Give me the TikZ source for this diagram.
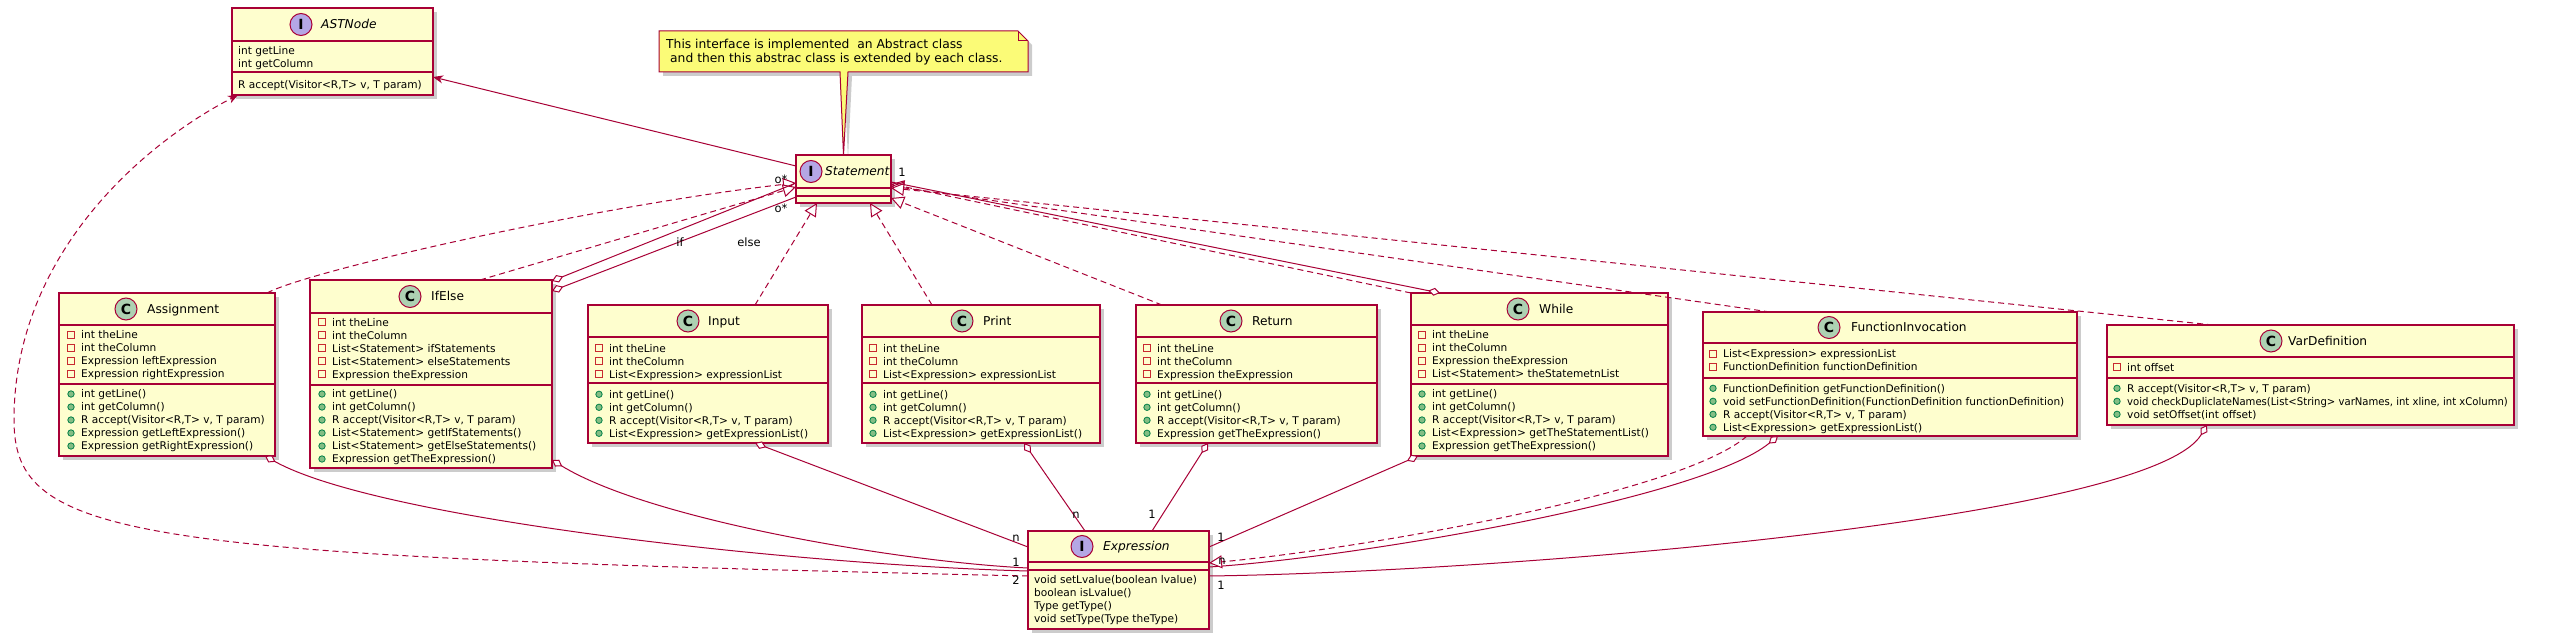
\documentclass[tikz,border=0pt]{standalone}
\usepackage{fontspec}
\setmainfont{DejaVu Sans}
\usetikzlibrary{arrows.meta,shadows,calc}
\definecolor{umlred}{HTML}{A80036}
\definecolor{umlfill}{HTML}{FEFECE}
\definecolor{cfill}{HTML}{ADD1B2}
\definecolor{ifill}{HTML}{B4A7E5}
\definecolor{privred}{HTML}{C82930}
\definecolor{pubfill}{HTML}{84BE84}
\definecolor{publine}{HTML}{038048}
\definecolor{notefill}{HTML}{FBFB77}
\tikzset{
 ubox/.style={draw=umlred, fill=umlfill, line width=1.5pt, inner sep=0pt, outer sep=0pt,
   drop shadow={shadow xshift=4pt, shadow yshift=-4pt, opacity=0.2, fill=black}},
 usep/.style={draw=umlred, line width=1.5pt},
 uicon/.style={circle, draw=umlred, line width=1pt, minimum size=22pt, inner sep=0pt,
   font=\fontsize{14}{14}\selectfont\bfseries},
 ctitle/.style={anchor=base west, inner sep=0pt, font=\fontsize{12.2}{14}\selectfont},
 ititle/.style={anchor=base west, inner sep=0pt, font=\fontsize{12.2}{14}\selectfont\itshape},
 umem/.style={anchor=base west, inner sep=0pt, font=\fontsize{10.6}{13}\selectfont},
 privi/.style={draw=privred, line width=0.9pt},
 pubi/.style={draw=publine, fill=pubfill, line width=0.8pt},
 conn/.style={draw=umlred, line width=1pt},
 realize/.style={conn, dash pattern=on 6pt off 4pt, -{Triangle[fill=white, length=13pt, width=13pt]}},
 aggr/.style={conn, {Diamond[fill=white, length=12pt, width=8pt]}-},
 dep/.style={conn, dash pattern=on 6pt off 4pt, -{Stealth[length=10pt, width=8pt, inset=3pt]}},
 assoc/.style={conn, -{Stealth[length=10pt, width=8pt, inset=3pt]}},
 mult/.style={inner sep=0pt, font=\fontsize{11.5}{13}\selectfont},
 notetext/.style={anchor=base west, inner sep=0pt, font=\fontsize{12.3}{14}\selectfont},
}
\newcommand\umlbox[7]{%
 \node[ubox, minimum width={#4-#2}, minimum height={#5-#3}, anchor=north west] (#1) at (#2,#3) {};
 \draw[usep] ($(#1.north west)+(0,{#6-#3})$) -- ($(#1.north east)+(0,{#6-#3})$);
 \draw[usep] ($(#1.north west)+(0,{#7-#3})$) -- ($(#1.north east)+(0,{#7-#3})$);}
\newcommand\privlist[4]{\foreach \mtext [count=\mi] in {#4} {%
 \draw[privi] ({#2-13.5},{#3+13*(\mi-1)-3.5}) rectangle ++(7,7);
 \node[umem] (#1\mi) at (#2,{#3+13*(\mi-1)+3.8}) {\mtext};}}
\newcommand\publist[4]{\foreach \mtext [count=\mi] in {#4} {%
 \draw[pubi] ({#2-10},{#3+13*(\mi-1)}) circle[radius=3.2];
 \node[umem] (#1\mi) at (#2,{#3+13*(\mi-1)+3.8}) {\mtext};}}
\newcommand\plainlist[4]{\foreach \mtext [count=\mi] in {#4} {%
 \node[umem] (#1\mi) at (#2,{#3+13*(\mi-1)+3.8}) {\mtext};}}
\begin{document}
\begin{tikzpicture}[x=1pt,y=-1pt]
\useasboundingbox (0,0) rectangle (2570,639);
\fill[white] (0,0) rectangle (2570,639);

% ---------- note shadow ----------
\coordinate (noteL) at (840,72);
\coordinate (noteR) at (848,72);
\fill[black, opacity=0.2, shift={(4pt,-4pt)}] (659,31) -- (1018,31) -- (1028,41) -- (1028,72) -- (848,72) -- (844,155) -- (840,72) -- (659,72) -- cycle;

% ---------- classes ----------
\umlbox{ast}{232}{8}{433}{95}{41}{72}
\node[uicon, fill=ifill] (ast-ic) at (301,24.5) {I};
\node[ititle] (ast-t) at (321,28.8) {ASTNode};
\plainlist{asta}{238}{50.7}{{int getLine},{int getColumn}}
\plainlist{astm}{238}{84.3}{{R accept(Visitor<R,T> v, T param)}}

\umlbox{st}{796}{155}{891}{203}{188}{196}
\node[uicon, fill=ifill] (st-ic) at (811,171.5) {I};
\node[ititle] (st-t) at (825,175.8) {Statement};

\umlbox{ex}{1028}{531}{1209}{629}{562}{570}
\node[uicon, fill=ifill] (ex-ic) at (1082,546.5) {I};
\node[ititle] (ex-t) at (1103,550.8) {Expression};
\plainlist{exm}{1034}{580}{{void setLvalue(boolean lvalue)},{boolean isLvalue()},{Type getType()},{void setType(Type theType)}}

\umlbox{asg}{59}{293}{275}{456}{325}{384}
\node[uicon, fill=cfill] (asg-ic) at (126,309) {C};
\node[ctitle] (asg-t) at (147,313.3) {Assignment};
\privlist{asga}{81}{335}{{int theLine},{int theColumn},{Expression leftExpression},{Expression rightExpression}}
\publist{asgm}{81}{394}{{int getLine()},{int getColumn()},{R accept(Visitor<R,T> v, T param)},{Expression getLeftExpression()},{Expression getRightExpression()}}

\umlbox{ife}{310}{280}{552}{468}{313}{385}
\node[uicon, fill=cfill] (ife-ic) at (410,296.5) {C};
\node[ctitle] (ife-t) at (431,300.8) {IfElse};
\privlist{ifea}{332}{322.3}{{int theLine},{int theColumn},{List<Statement> ifStatements},{List<Statement> elseStatements},{Expression theExpression}}
\publist{ifem}{332}{394}{{int getLine()},{int getColumn()},{R accept(Visitor<R,T> v, T param)},{List<Statement> getIfStatements()},{List<Statement> getElseStatements()},{Expression getTheExpression()}}

\umlbox{inp}{588}{305}{828}{443}{337}{383}
\node[uicon, fill=cfill] (inp-ic) at (688,321) {C};
\node[ctitle] (inp-t) at (708,325.3) {Input};
\privlist{inpa}{609}{348.3}{{int theLine},{int theColumn},{List<Expression> expressionList}}
\publist{inpm}{609}{394.3}{{int getLine()},{int getColumn()},{R accept(Visitor<R,T> v, T param)},{List<Expression> getExpressionList()}}

\umlbox{prt}{862}{305}{1100}{443}{337}{383}
\node[uicon, fill=cfill] (prt-ic) at (962,321) {C};
\node[ctitle] (prt-t) at (983,325.3) {Print};
\privlist{prta}{883}{348.3}{{int theLine},{int theColumn},{List<Expression> expressionList}}
\publist{prtm}{883}{394.3}{{int getLine()},{int getColumn()},{R accept(Visitor<R,T> v, T param)},{List<Expression> getExpressionList()}}

\umlbox{ret}{1136}{305}{1377}{443}{337}{383}
\node[uicon, fill=cfill] (ret-ic) at (1231,321) {C};
\node[ctitle] (ret-t) at (1252,325.3) {Return};
\privlist{reta}{1157}{348.3}{{int theLine},{int theColumn},{Expression theExpression}}
\publist{retm}{1157}{394.3}{{int getLine()},{int getColumn()},{R accept(Visitor<R,T> v, T param)},{Expression getTheExpression()}}

\umlbox{whl}{1411}{293}{1668}{456}{325}{384}
\node[uicon, fill=cfill] (whl-ic) at (1518,309) {C};
\node[ctitle] (whl-t) at (1539,313.3) {While};
\privlist{whla}{1432}{335}{{int theLine},{int theColumn},{Expression theExpression},{List<Statement> theStatemetnList}}
\publist{whlm}{1432}{394}{{int getLine()},{int getColumn()},{R accept(Visitor<R,T> v, T param)},{List<Expression> getTheStatementList()},{Expression getTheExpression()}}

\umlbox{fi}{1703}{312}{2077}{436}{343}{378}
\node[uicon, fill=cfill] (fi-ic) at (1829,327.5) {C};
\node[ctitle] (fi-t) at (1851,331.8) {FunctionInvocation};
\privlist{fia}{1723}{354}{{List<Expression> expressionList},{FunctionDefinition functionDefinition}}
\publist{fim}{1723}{388.3}{{FunctionDefinition getFunctionDefinition()},{void setFunctionDefinition(FunctionDefinition functionDefinition)},{R accept(Visitor<R,T> v, T param)},{List<Expression> getExpressionList()}}

\umlbox{vd}{2107}{325}{2514}{425}{357}{378}
\node[uicon, fill=cfill] (vd-ic) at (2271,341) {C};
\node[ctitle] (vd-t) at (2288,345.3) {VarDefinition};
\privlist{vda}{2127}{367.3}{{int offset}}
\publist{vdm}{2127}{388.3}{{R accept(Visitor<R,T> v, T param)},{\scalebox{0.95}[1]{void checkDupliclateNames(List<String> varNames, int xline, int xColumn)}},{void setOffset(int offset)}}

% ---------- note body ----------
\draw[umlred, fill=notefill, line width=1pt] (659,31) -- (1018,31) -- (1028,41) -- (1028,72) -- (noteR) -- (st.north) -- (noteL) -- (659,72) -- cycle;
\draw[umlred, line width=1pt] (1018,31) -- (1018,41) -- (1028,41);
\node[notetext] (note) at (666,48.5) {This interface is implemented~ an Abstract class};
\node[notetext] (note2) at (670,62.5) {and then this abstrac class is extended by each class.};

% ---------- connectors to ASTNode ----------
\draw[assoc] ($(st.north west)+(0,11)$) -- ($(ast.north east)+(0,69)$);
\draw[dep] ($(ex.north west)+(0,45)$) .. controls (130,556) and (14,540) .. (14,420)
   .. controls (14,250) and (150,140) .. ($(ast.north west)+(6,87)$);

% ---------- realizations of Statement ----------
\draw[realize] ($(asg.north west)+(208,0)$) .. controls (310,270) and (600,205) .. ($(st.north west)+(0,28)$);
\draw[realize] ($(ife.north west)+(170,0)$) -- ($(st.north west)+(0,32)$);
\draw[realize] ($(inp.north west)+(167,0)$) -- ($(st.north west)+(21,48)$);
\draw[realize] ($(prt.north west)+(70,0)$) -- ($(st.north west)+(74,48)$);
\draw[realize] ($(ret.north west)+(26,0)$) -- ($(st.north west)+(95,43)$);
\draw[realize] ($(whl.north west)+(0,0)$) -- ($(st.north west)+(95,29)$);
\draw[realize] ($(fi.north west)+(67,0)$) -- ($(st.north west)+(95,31)$);
\draw[realize] ($(vd.north west)+(106,0)$) -- ($(st.north west)+(95,33)$);

% ---------- aggregations of Statement ----------
\draw[aggr] ($(ife.north west)+(242,1)$) -- ($(st.north west)+(0,28)$);
\draw[aggr] ($(ife.north west)+(242,11)$) -- ($(st.north west)+(0,42)$);
\draw[aggr] ($(whl.north west)+(29,0)$) -- ($(st.north west)+(95,27)$);
\node[mult] (m-if) at (781,179) {o*};
\node[mult] (m-else) at (781,208) {o*};
\node[mult] (l-if) at (680,242) {if};
\node[mult] (l-else) at (749,242) {else};
\node[mult] (m-whl) at (902,172) {1};

% ---------- Expression links ----------
\draw[aggr] ($(asg.north west)+(206,163)$) .. controls (380,520) and (800,565) .. ($(ex.north west)+(0,40)$);
\draw[aggr] ($(ife.north west)+(242,180)$) .. controls (650,520) and (900,562) .. ($(ex.north west)+(0,37)$);
\draw[aggr] ($(inp.north west)+(167,138)$) -- ($(ex.north west)+(0,16)$);
\draw[aggr] ($(prt.north west)+(162,138)$) -- ($(ex.north west)+(57,0)$);
\draw[aggr] ($(ret.north west)+(72,138)$) -- ($(ex.north west)+(124,0)$);
\draw[aggr] ($(whl.north west)+(7,163)$) -- ($(ex.north west)+(181,16)$);
\draw[aggr] ($(fi.north west)+(75,124)$) .. controls (1700,500) and (1350,558) .. ($(ex.north west)+(181,36)$);
\draw[realize] ($(fi.north west)+(44,124)$) .. controls (1680,495) and (1350,550) .. ($(ex.north west)+(181,32)$);
\draw[aggr] ($(vd.north west)+(100,100)$) .. controls (2150,520) and (1500,572) .. ($(ex.north west)+(181,45)$);

\node[mult] (m-inp) at (1016,538) {n};
\node[mult] (m-ife) at (1016,562) {1};
\node[mult] (m-asg) at (1016,580) {2};
\node[mult] (m-prt) at (1076,515) {n};
\node[mult] (m-ret) at (1152,514) {1};
\node[mult] (m-whle) at (1221,537) {1};
\node[mult] (m-fi) at (1222,561) {n};
\node[mult] (m-vd) at (1221,585) {1};
\end{tikzpicture}
\end{document}
